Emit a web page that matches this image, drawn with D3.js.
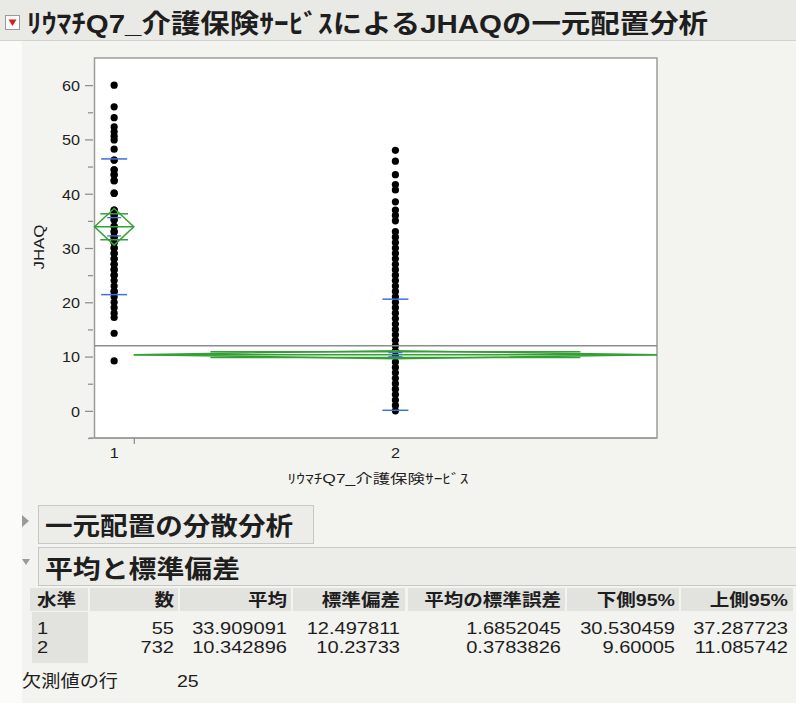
<!DOCTYPE html>
<html><head><meta charset="utf-8">
<script src="https://cdn.jsdelivr.net/npm/d3@7"></script>
<style>
body{margin:0;background:#f3f3ef;}
svg{display:block;}
text{font-family:"Liberation Sans","Noto Sans CJK JP",sans-serif;fill:#1e1e1e;}
</style>
</head><body>
<svg id="c" width="796" height="703"></svg>
<script>
// ---------- data ----------
const titleText = "ﾘｳﾏﾁQ7_介護保険ｻｰﾋﾞｽによるJHAQの一元配置分析";
const xLabel = "ﾘｳﾏﾁQ7_介護保険ｻｰﾋﾞｽ";
const yLabel = "JHAQ";
const levels = ["1", "2"];
const counts = [55, 732];
const means = [33.909091, 10.342896];
const stdDevs = [12.497811, 10.23733];
const stdErrs = [1.6852045, 0.3783826];
const lower95 = [30.530459, 9.60005];
const upper95 = [37.287723, 11.085742];
const grandMean = 11.99;
const yTicks = [0, 10, 20, 30, 40, 50, 60];
const yMinorTicks = [-5, 5, 15, 25, 35, 45, 55];
const group1Values = [60, 56, 54, 52.3, 51.4, 50.6, 49.9, 48.2, 46.2, 44.4, 43.5, 42.4, 40.1, 37, 36.1, 35.2, 34, 33, 32, 31, 30, 29, 28, 27, 26, 25, 24, 23, 22, 21, 20, 19, 18, 17.2, 14.3, 9.2, 46.2, 44.4, 43.5, 42.4, 40.1, 37, 36.1, 35.2, 34, 33, 32, 31, 30, 29, 28, 27, 26, 25, 22];
const group2Values = [0, 1, 2, 3, 4, 5, 6, 7, 8, 9, 10, 11, 12, 13, 14, 15, 16, 17, 18, 19, 20, 21, 22, 23, 24, 25, 26, 27, 28, 29, 30, 31, 32, 33, 35, 36, 37, 38.5, 40.7, 41.7, 43.5, 46, 48];
const section1Title = "一元配置の分散分析";
const section2Title = "平均と標準偏差";
const tableHeaders = ["水準", "数", "平均", "標準偏差", "平均の標準誤差", "下側95%", "上側95%"];
const colCount = ["55", "732"];
const colMean = ["33.909091", "10.342896"];
const colStd = ["12.497811", "10.23733"];
const colSE = ["1.6852045", "0.3783826"];
const colLow = ["30.530459", "9.60005"];
const colUp = ["37.287723", "11.085742"];
const missingLabel = "欠測値の行";
const missingCount = "25";

// ---------- helpers ----------
const svg = d3.select("#c");
function stretch(sel, sx) {
  sel.each(function () {
    const L = this.getComputedTextLength();
    d3.select(this).attr("textLength", L * sx).attr("lengthAdjust", "spacingAndGlyphs");
  });
  return sel;
}
function fit(sel, w) {
  sel.attr("textLength", w).attr("lengthAdjust", "spacingAndGlyphs");
  return sel;
}

// ---------- backgrounds ----------
svg.append("rect").attr("x", 0).attr("y", 0).attr("width", 22).attr("height", 703).attr("fill", "#fbfbf9");
svg.append("rect").attr("x", 0).attr("y", 0).attr("width", 796).attr("height", 40).attr("fill", "#e9e9e5");
svg.append("line").attr("x1", 0).attr("x2", 796).attr("y1", 40.5).attr("y2", 40.5).attr("stroke", "#d2d2ce");

// title icon
svg.append("rect").attr("x", 5.5).attr("y", 15.5).attr("width", 14).attr("height", 14)
  .attr("fill", "#fafafa").attr("stroke", "#9a9a9a");
svg.append("path").attr("d", "M8.5,19.5 L16.5,19.5 L12.5,26 Z").attr("fill", "#d42020");
fit(svg.append("text").attr("x", 27).attr("y", 33).attr("font-size", 26).attr("font-weight", "bold")
  .text(titleText), 681);

// ---------- plot ----------
const pL = 94.5, pR = 657, pT = 58, pB = 438;
const total = d3.sum(counts);
const x = d3.scaleLinear().domain([0, total]).range([pL, pR]);
const y = d3.scaleLinear().domain([-5, 65]).range([pB, pT]);
const cum = [0, counts[0], total];
const centers = levels.map((d, i) => (x(cum[i]) + x(cum[i + 1])) / 2);

svg.append("rect").attr("x", pL).attr("y", pT).attr("width", pR - pL).attr("height", pB - pT)
  .attr("fill", "#ffffff").attr("stroke", "#9c9c9c").attr("stroke-width", 1.5);

// y axis
const yAxis = svg.append("g").attr("transform", "translate(93,0)")
  .call(d3.axisLeft(y).tickValues(yTicks).tickSize(8).tickPadding(5).tickFormat(d3.format("d")));
const yMinor = svg.append("g").attr("transform", "translate(93,0)")
  .call(d3.axisLeft(y).tickValues(yMinorTicks).tickSize(5).tickFormat(""));
[yAxis, yMinor].forEach(g => {
  g.select(".domain").remove();
  g.selectAll("line").attr("stroke", "#8a8a8a").attr("stroke-width", 1.2);
});
yAxis.selectAll("text").attr("font-size", 15).attr("fill", "#1e1e1e").attr("dy", "0.36em")
  .call(s => stretch(s, 1.08));

// x axis
svg.append("line").attr("x1", 89).attr("x2", pR).attr("y1", pB).attr("y2", pB)
  .attr("stroke", "#9c9c9c").attr("stroke-width", 1.5);
const xAxis = svg.append("g").attr("transform", `translate(0,${pB})`)
  .call(d3.axisBottom(x).tickValues([cum[1]]).tickSize(6).tickFormat(""));
xAxis.select(".domain").remove();
xAxis.selectAll("line").attr("stroke", "#8a8a8a").attr("stroke-width", 1.2);
svg.selectAll(".xlab").data(levels).join("text").attr("class", "xlab")
  .attr("x", (d, i) => centers[i]).attr("y", 458).attr("text-anchor", "middle")
  .attr("font-size", 15).text(d => d).call(s => stretch(s, 1.08));

// axis titles
fit(svg.append("text").attr("x", 378).attr("y", 483).attr("text-anchor", "middle")
  .attr("font-size", 13).text(xLabel), 181);
fit(svg.append("text").attr("transform", "translate(44,247) rotate(-90)").attr("text-anchor", "middle")
  .attr("font-size", 15).text(yLabel), 45);

// points
const groups = [group1Values, group2Values];
groups.forEach((vals, i) => {
  svg.append("g").selectAll("circle").data(vals).join("circle")
    .attr("cx", centers[i]).attr("cy", d => y(d)).attr("r", 3.6).attr("fill", "#000");
});

// grand mean
svg.append("line").attr("x1", pL).attr("x2", pR).attr("y1", y(grandMean)).attr("y2", y(grandMean))
  .attr("stroke", "#8c8c8c").attr("stroke-width", 1.6);

// means diamonds
const green = "#35a035";
levels.forEach((d, i) => {
  const x0 = x(cum[i]), x1 = x(cum[i + 1]), xc = centers[i];
  const g = svg.append("g").attr("fill", "none").attr("stroke", green).attr("stroke-width", 1.5);
  g.append("path").attr("d", `M${x0},${y(means[i])} L${xc},${y(upper95[i])} L${x1},${y(means[i])} L${xc},${y(lower95[i])} Z`);
  g.append("line").attr("x1", x0).attr("x2", x1).attr("y1", y(means[i])).attr("y2", y(means[i]));
  const half = (upper95[i] - means[i]) / Math.SQRT2;
  const hw = (x1 - x0) / 2 * (1 - 1 / Math.SQRT2);
  [means[i] + half, means[i] - half].forEach(v => {
    g.append("line").attr("x1", x0 + hw).attr("x2", x1 - hw).attr("y1", y(v)).attr("y2", y(v));
  });
});

// std dev lines and mean error bars
const blue = "#3f6fe0";
levels.forEach((d, i) => {
  const xc = centers[i];
  [means[i] + stdDevs[i], means[i] - stdDevs[i]].forEach(v => {
    svg.append("line").attr("x1", xc - 13).attr("x2", xc + 13).attr("y1", y(v)).attr("y2", y(v))
      .attr("stroke", blue).attr("stroke-width", 1.5);
  });
  [means[i] + stdErrs[i], means[i] - stdErrs[i]].forEach(v => {
    svg.append("line").attr("x1", xc - 7).attr("x2", xc + 7).attr("y1", y(v)).attr("y2", y(v))
      .attr("stroke", blue).attr("stroke-width", 1.3);
  });
});

// ---------- sections ----------
svg.append("path").attr("d", "M22,515 L29,521 L22,527 Z").attr("fill", "#9a9a9a");
svg.append("rect").attr("x", 38.5).attr("y", 505.5).attr("width", 275).attr("height", 38)
  .attr("fill", "#ecece8").attr("stroke", "#c8c8c4");
fit(svg.append("text").attr("x", 45).attr("y", 535).attr("font-size", 25).attr("font-weight", "bold")
  .text(section1Title), 248);

svg.append("path").attr("d", "M22,559 L30,559 L26,565 Z").attr("fill", "#9a9a9a");
svg.append("rect").attr("x", 38.5).attr("y", 547.5).attr("width", 770).attr("height", 38)
  .attr("fill", "#ecece8").attr("stroke", "#c8c8c4");
fit(svg.append("text").attr("x", 45).attr("y", 578).attr("font-size", 25).attr("font-weight", "bold")
  .text(section2Title), 195);

// ---------- table ----------
const cellL = [30, 90, 180, 293, 408, 567, 681];
const cellR = [88, 178, 291, 405, 565, 679, 793];
const textR = [37, 174, 287, 400, 561, 675, 788];
svg.selectAll(".hcell").data(tableHeaders).join("rect").attr("class", "hcell")
  .attr("x", (d, i) => cellL[i]).attr("y", 588).attr("width", (d, i) => cellR[i] - cellL[i]).attr("height", 23)
  .attr("fill", "#e2e2de");
svg.append("rect").attr("x", 32).attr("y", 612).attr("width", 56).attr("height", 51).attr("fill", "#e2e2de");
svg.selectAll(".htext").data(tableHeaders).join("text").attr("class", "htext")
  .attr("x", (d, i) => textR[i]).attr("y", 606)
  .attr("text-anchor", (d, i) => i === 0 ? "start" : "end")
  .attr("font-size", 17).attr("font-weight", "bold").text(d => d)
  .call(s => stretch(s, 1.15));

const cols = [levels, colCount, colMean, colStd, colSE, colLow, colUp];
const rowY = [634, 653];
cols.forEach((col, ci) => {
  col.forEach((v, ri) => {
    svg.append("text").attr("x", textR[ci]).attr("y", rowY[ri])
      .attr("text-anchor", ci === 0 ? "start" : "end")
      .attr("font-size", 17).text(v).call(s => stretch(s, 1.18));
  });
});

stretch(svg.append("text").attr("x", 22).attr("y", 687).attr("font-size", 17).text(missingLabel), 1.13);
stretch(svg.append("text").attr("x", 177).attr("y", 687).attr("font-size", 17).text(missingCount), 1.15);
</script>
</body></html>
